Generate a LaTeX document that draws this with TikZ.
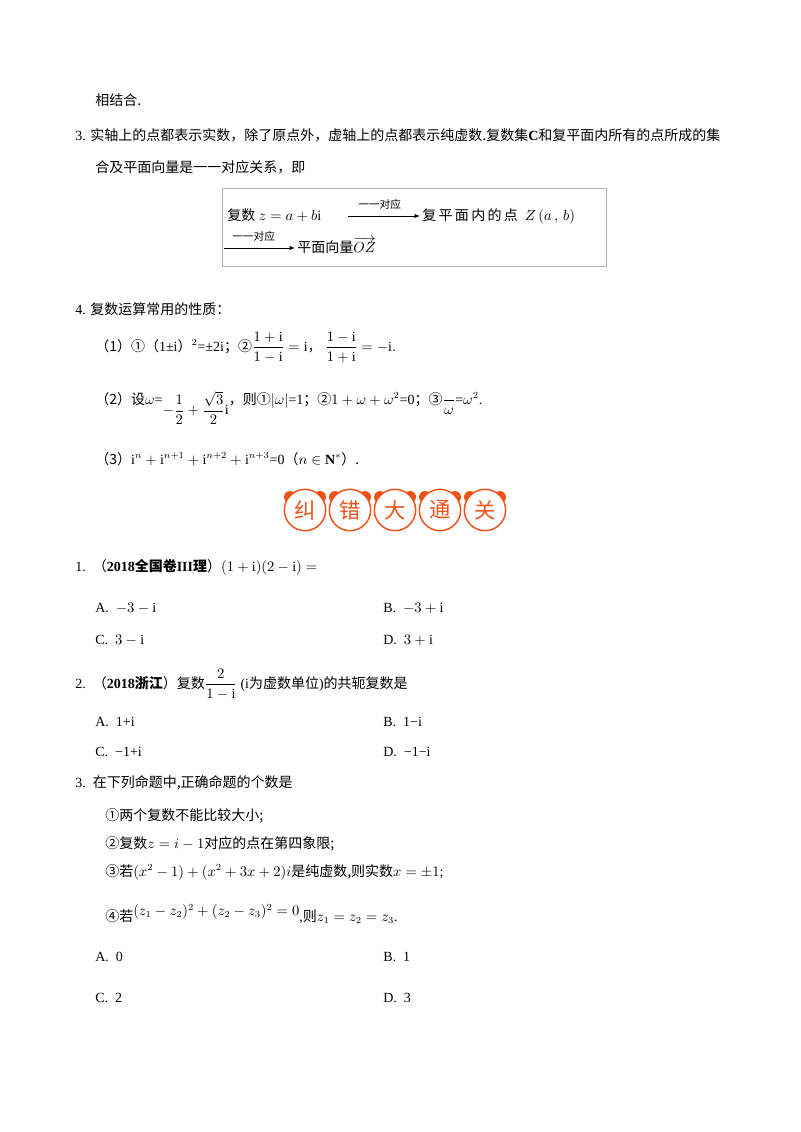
\documentclass[tikz,border=0pt]{standalone}
\usepackage{amsmath,amssymb}
\usepackage{fontspec}
\setmainfont{Liberation Serif}
\newfontfamily\cjk{Noto Sans CJK SC}
\newcommand{\zh}[1]{{\cjk #1}}
\usetikzlibrary{arrows.meta}
\definecolor{bann}{HTML}{F0521A}
\begin{document}
\begin{tikzpicture}[x=0.75pt,y=-0.75pt,
  txt/.style={anchor=base west,inner sep=0pt,font=\fontsize{10.5}{12}\selectfont},
  sm/.style={anchor=base west,inner sep=0pt,font=\fontsize{8}{9}\selectfont},
  badge/.style={circle,draw=bann,line width=1.1pt,fill=white,inner sep=0pt,text=bann,font=\cjk\fontsize{16}{17}\selectfont}]
\useasboundingbox (0,0) rectangle (800,1132);
\fill[white] (0,0) rectangle (800,1132);

\node[txt] (t0) at (95,105) {\zh{相结合.}};
\node[txt] (t3) at (75,140) {3. \zh{实轴上的点都表示实数，除了原点外，虚轴上的点都表示纯虚数.复数集}\textbf{C}\zh{和复平面内所有的点所成的集}};
\node[txt] (t3b) at (95,172) {\zh{合及平面向量是一一对应关系，即}};

\draw[gray!60,line width=0.6pt] (222,188) rectangle (606,266);
\node[txt] (b1) at (227,220) {\zh{复数}\ $z=a+b\mathrm{i}$};
\coordinate (a1s) at (348,216);
\coordinate (a1e) at (420,216);
\draw[-{Latex[length=4pt]},line width=0.5pt] (a1s) -- (a1e);
\node[sm] (l1) at (358,208) {\zh{一一对应}};
\node[txt] (b2) at (422,220) {\zh{复\,平\,面\,内\,的\,点}\ \ $Z\,(a\,,\,b)$};
\coordinate (a2s) at (224,248);
\coordinate (a2e) at (295,248);
\draw[-{Latex[length=4pt]},line width=0.5pt] (a2s) -- (a2e);
\node[sm] (l2) at (232,240) {\zh{一一对应}};
\node[txt] (b3) at (297,252) {\zh{平面向量}$\overrightarrow{OZ}$};

\node[txt] (t4) at (75,314) {4. \zh{复数运算常用的性质：}};
\node[txt] (p1) at (95,351) {\zh{（1）①（}1±i\zh{）}$^{2}$=±2i\zh{；②}$\dfrac{1+\mathrm{i}}{1-\mathrm{i}}=\mathrm{i}$\zh{，}\ $\dfrac{1-\mathrm{i}}{1+\mathrm{i}}=-\mathrm{i}.$};
\node[txt] (p2) at (95,404) {\zh{（2）设}$\omega$=\raisebox{-8pt}{$-\dfrac{1}{2}+\dfrac{\sqrt3}{2}\mathrm{i}$}\zh{，则①}$|\omega|$=1\zh{；②}$1+\omega+\omega^2$=0\zh{；③}$\dfrac{\ }{\omega}$=$\omega^2$.};
\node[txt] (p3) at (95,464) {\zh{（3）}$\mathrm{i}^{n}+\mathrm{i}^{n+1}+\mathrm{i}^{n+2}+\mathrm{i}^{n+3}$=0\zh{（}$n\in\mathbf{N}^{*}$\zh{）.}};

\foreach \ch [count=\k] in {纠,错,大,通,关}{
  \pgfmathsetmacro{\cx}{305+45*(\k-1)}
  \fill[bann] (\cx-15,497) circle (6);
  \fill[bann] (\cx+15,497) circle (6);
  \node[badge,minimum size=31pt] (bd\k) at (\cx,510) {\ch};
}

\node[txt] (q1) at (75,571) {1.\ \ \zh{（}\textbf{2018\zh{全国卷}III\zh{理}}\zh{）}$(1+\mathrm{i})(2-\mathrm{i})=$};
\node[txt] (q1a) at (95,612) {A.\ \ $-3-\mathrm{i}$};
\node[txt] (q1b) at (383,612) {B.\ \ $-3+\mathrm{i}$};
\node[txt] (q1c) at (95,644) {C.\ \ $3-\mathrm{i}$};
\node[txt] (q1d) at (383,644) {D.\ \ $3+\mathrm{i}$};

\node[txt] (q2) at (75,688) {2.\ \ \zh{（}\textbf{2018\zh{浙江}}\zh{）复数}$\dfrac{2}{1-\mathrm{i}}$\ (i\zh{为虚数单位}){\zh{的共轭复数是}}};
\node[txt] (q2a) at (95,726) {A.\ \ 1+i};
\node[txt] (q2b) at (383,726) {B.\ \ 1−i};
\node[txt] (q2c) at (95,756) {C.\ \ −1+i};
\node[txt] (q2d) at (383,756) {D.\ \ −1−i};

\node[txt] (q3) at (75,787) {3.\ \ \zh{在下列命题中,正确命题的个数是}};
\node[txt] (s1) at (105,820) {\zh{①两个复数不能比较大小;}};
\node[txt] (s2) at (105,848) {\zh{②复数}$z=i-1$\zh{对应的点在第四象限;}};
\node[txt] (s3) at (105,876) {\zh{③若}$(x^2-1)+(x^2+3x+2)i$\zh{是纯虚数,则实数}$x=\pm1$;};
\node[txt] (s4) at (105,921) {\zh{④若}\raisebox{4pt}{$(z_1-z_2)^2+(z_2-z_3)^2=0$},\zh{则}$z_1=z_2=z_3$.};
\node[txt] (q3a) at (95,961) {A.\ \ 0};
\node[txt] (q3b) at (383,961) {B.\ \ 1};
\node[txt] (q3c) at (95,1002) {C.\ \ 2};
\node[txt] (q3d) at (383,1002) {D.\ \ 3};
\end{tikzpicture}
\end{document}
